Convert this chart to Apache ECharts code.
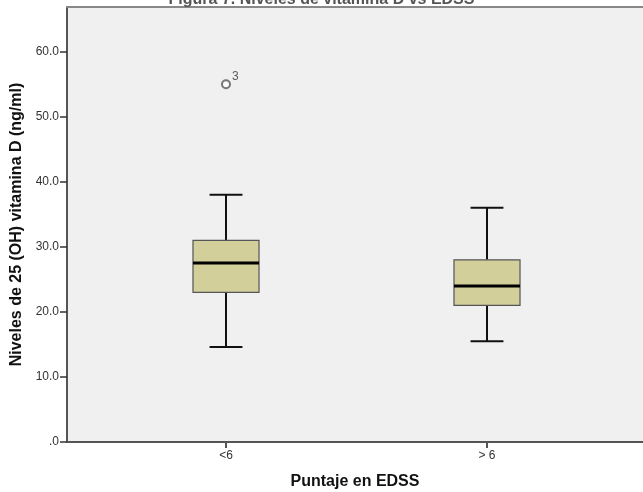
<!DOCTYPE html>
<html>
<head>
<meta charset="utf-8">
<script src="https://cdn.jsdelivr.net/npm/echarts@6/dist/echarts.min.js"></script>
<style>
  html, body { margin: 0; padding: 0; background: #ffffff; }
  #chart { width: 643px; height: 492px; }
</style>
</head>
<body>
<div id="chart"></div>
<script>
// Groups on the EDSS score axis
const categories = ['<6', '> 6'];
// Box statistics per group: [min, Q1, median, Q3, max]
const boxStats = [
  [14.6, 23.0, 27.5, 31.0, 38.0],
  [15.5, 21.0, 24.0, 28.0, 36.0]
];
// Outliers: [group index, value, case label]
const outliers = [
  [0, 55.0, '3']
];
// Y-axis tick values
const yTicks = [0, 10, 20, 30, 40, 50, 60];

// Groups sit at x = 1, 2 on a numeric axis
const groupPos = categories.map((c, i) => i + 1);
const boxData = boxStats.map((s, i) => [groupPos[i]].concat(s));
const outlierData = outliers.map(o => ({ value: [groupPos[o[0]], o[1]], caseLabel: o[2] }));

const BOX_W = 0.253;
const CAP_W = 0.126;
const FONT = 'Liberation Sans, Arial, sans-serif';

function renderBox(params, api) {
  const x = api.value(0);
  const lo = api.coord([x, api.value(1)]);
  const q1 = api.coord([x, api.value(2)]);
  const md = api.coord([x, api.value(3)]);
  const q3 = api.coord([x, api.value(4)]);
  const hi = api.coord([x, api.value(5)]);
  const bl = api.coord([x - BOX_W / 2, 0])[0];
  const br = api.coord([x + BOX_W / 2, 0])[0];
  const cl = api.coord([x - CAP_W / 2, 0])[0];
  const cr = api.coord([x + CAP_W / 2, 0])[0];
  const cx = lo[0];
  const whisker = { stroke: '#111', lineWidth: 2 };
  return {
    type: 'group',
    children: [
      { type: 'line', shape: { x1: cx, y1: hi[1], x2: cx, y2: q3[1] }, style: whisker },
      { type: 'line', shape: { x1: cx, y1: q1[1], x2: cx, y2: lo[1] }, style: whisker },
      { type: 'line', shape: { x1: cl, y1: hi[1], x2: cr, y2: hi[1] }, style: whisker },
      { type: 'line', shape: { x1: cl, y1: lo[1], x2: cr, y2: lo[1] }, style: whisker },
      { type: 'rect', shape: { x: bl, y: q3[1], width: br - bl, height: q1[1] - q3[1] },
        style: { fill: '#D3CF9B', stroke: '#555', lineWidth: 1.2 } },
      { type: 'line', shape: { x1: bl, y1: md[1], x2: br, y2: md[1] },
        style: { stroke: '#000', lineWidth: 3 } }
    ]
  };
}

const chart = echarts.init(document.getElementById('chart'), null, { renderer: 'canvas' });
chart.setOption({
  animation: false,
  backgroundColor: '#ffffff',
  title: {
    text: 'Figura 7. Niveles de vitamina D vs EDSS',
    left: 'center',
    top: -13,
    textStyle: { fontFamily: FONT, fontSize: 16, fontWeight: 'bold', color: '#555' }
  },
  grid: {
    left: 67, top: 7, right: 0, bottom: 50,
    outerBoundsMode: 'none',
    containLabel: false,
    show: true, backgroundColor: '#F0F0F0', borderWidth: 0
  },
  xAxis: [{
    type: 'value',
    min: 0.3908,
    max: 2.5977,
    splitLine: { show: false },
    axisLine: { show: true, lineStyle: { color: '#555', width: 2 } },
    axisTick: { show: true, customValues: groupPos, length: 6, lineStyle: { color: '#555', width: 2 } },
    axisLabel: {
      customValues: groupPos,
      formatter: v => categories[Math.round(v) - 1] || '',
      color: '#333', fontSize: 12, fontFamily: FONT, margin: 8
    },
    name: 'Puntaje en EDSS',
    nameLocation: 'middle',
    nameGap: 32,
    nameTextStyle: { fontFamily: FONT, fontSize: 16, fontWeight: 'bold', color: '#111' }
  }, {
    type: 'value',
    position: 'top',
    min: 0.3908,
    max: 2.5977,
    splitLine: { show: false },
    axisLine: { show: true, lineStyle: { color: '#888', width: 2 } },
    axisTick: { show: false },
    axisLabel: { show: false }
  }],
  yAxis: {
    type: 'value',
    min: 0,
    max: 66.87,
    splitLine: { show: false },
    axisLine: { show: true, lineStyle: { color: '#555', width: 2 } },
    axisTick: { show: true, customValues: yTicks, length: 7, lineStyle: { color: '#333', width: 1.5 } },
    axisLabel: {
      customValues: yTicks,
      formatter: v => v === 0 ? '.0' : v.toFixed(1),
      color: '#333', fontSize: 12, fontFamily: FONT, margin: 8
    },
    name: 'Niveles de 25 (OH) vitamina D (ng/ml)',
    nameLocation: 'middle',
    nameGap: 42,
    nameTextStyle: { fontFamily: FONT, fontSize: 16, fontWeight: 'bold', color: '#111' }
  },
  series: [{
    type: 'custom',
    renderItem: renderBox,
    encode: { x: 0, y: [1, 2, 3, 4, 5] },
    data: boxData,
    z: 3
  }, {
    type: 'scatter',
    data: outlierData,
    symbol: 'emptyCircle',
    symbolSize: 8,
    itemStyle: { color: '#555', borderColor: '#555', borderWidth: 1.2 },
    label: {
      show: true,
      position: 'right',
      distance: 1,
      offset: [0, -8],
      formatter: p => p.data.caseLabel,
      color: '#333', fontSize: 12, fontFamily: FONT
    },
    z: 4
  }]
});
</script>
</body>
</html>
